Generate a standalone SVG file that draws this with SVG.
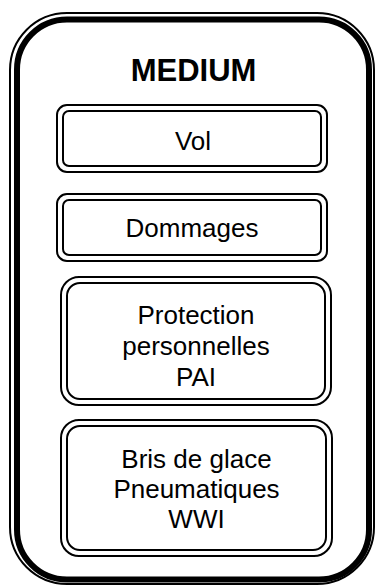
<svg xmlns="http://www.w3.org/2000/svg" width="377" height="585" viewBox="0 0 377 585">
<style>
.thin{fill:none;stroke:#000;stroke-width:2}
.thick{fill:none;stroke:#000;stroke-width:6}
.t{font-family:"Liberation Sans",Arial,sans-serif;font-size:26px;fill:#000;text-anchor:middle}
.title{font-family:"Liberation Sans",Arial,sans-serif;font-size:31px;font-weight:bold;fill:#000;text-anchor:middle}
</style>
<rect width="377" height="585" fill="#fff"/>
<g id="medium">
<rect class="thin" x="10" y="13" width="364" height="571" rx="57" ry="57"/>
<rect class="thick" x="17" y="19.5" width="352" height="560" rx="50" ry="50"/>
<text class="title" x="193.5" y="81">MEDIUM</text>
</g>
<g id="vol">
<rect class="thin" x="57" y="105" width="270" height="67" rx="10" ry="10"/>
<rect class="thin" x="63" y="111" width="258" height="55" rx="6" ry="6"/>
<text class="t" x="193" y="150">Vol</text>
</g>
<g id="dommages">
<rect class="thin" x="57" y="194" width="270" height="67" rx="10" ry="10"/>
<rect class="thin" x="63" y="200" width="258" height="55" rx="6" ry="6"/>
<text class="t" x="192" y="237">Dommages</text>
</g>
<g id="protection">
<rect class="thin" x="61" y="277" width="270" height="128" rx="18" ry="18"/>
<rect class="thin" x="67" y="283" width="258" height="116" rx="13" ry="13"/>
<text class="t" x="196" y="324">Protection</text>
<text class="t" x="196" y="355">personnelles</text>
<text class="t" x="196" y="386">PAI</text>
</g>
<g id="bris">
<rect class="thin" x="61" y="420" width="271" height="136" rx="18" ry="18"/>
<rect class="thin" x="67" y="426" width="259" height="124" rx="13" ry="13"/>
<text class="t" x="196.5" y="468">Bris de glace</text>
<text class="t" x="196.5" y="498">Pneumatiques</text>
<text class="t" x="196.5" y="528">WWI</text>
</g>
<g id="connectors"/>
</svg>
